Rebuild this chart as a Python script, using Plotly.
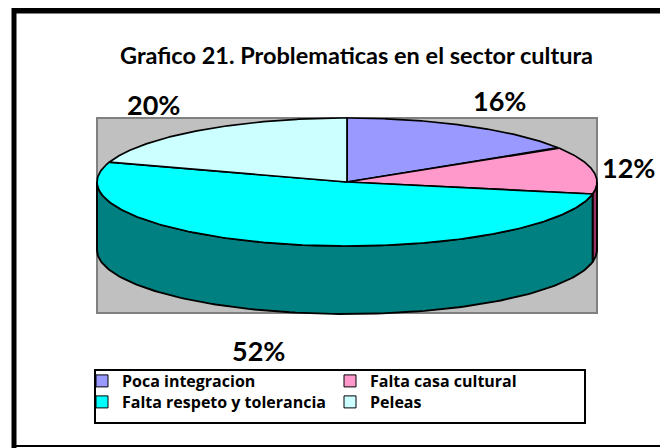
import numpy as np
import plotly.graph_objects as go

# ---- data ----
categories = ["Poca integracion", "Falta casa cultural", "Falta respeto y tolerancia", "Peleas"]
values = [16, 12, 52, 20]
top_colors = ["#9999FF", "#FF99CC", "#00FFFF", "#CCFFFF"]
side_colors = ["#4D4D80", "#993366", "#008080", "#668080"]
title_text = "Grafico 21. Problematicas en el sector cultura"
label_pos = [(499, 100), (628, 167), (258, 350), (153, 104)]  # label centres (page px)

# page is offset by the default 8px body margin -> draw in page pixel coordinates
OFF = 8
W, H = 668 - OFF, 448 - OFF
cx, cy, rx, ry, depth = 347, 182, 250, 64, 68
FONT = "Lato"
LFONT = "Open Sans"

total = float(sum(values))
bounds = np.concatenate([[0], np.cumsum(values)]) / total * 360.0


def rim(t, dy=0.0):
    r = np.radians(t)
    return cx + rx * np.sin(r), cy - ry * np.cos(r) + dy


def px(xp):
    return (xp - OFF) / W


def py(yp):
    return 1 - (yp - OFF) / H


fig = go.Figure()

# side walls (front half of the pie: 90..270 degrees)
for i in range(len(values)):
    a, b = max(bounds[i], 90), min(bounds[i + 1], 270)
    if b <= a:
        continue
    t = np.linspace(a, b, 120)
    x1, y1 = rim(t)
    x2, y2 = rim(t[::-1], depth)
    fig.add_trace(go.Scatter(
        x=np.concatenate([x1, x2, x1[:1]]), y=np.concatenate([y1, y2, y1[:1]]),
        mode="lines", fill="toself", fillcolor=side_colors[i],
        line=dict(color="black", width=1.9), showlegend=False, hoverinfo="skip"))

# top slices + legend entries
legend_ids = ["legend", "legend3", "legend2", "legend4"]
for i, (cat, v) in enumerate(zip(categories, values)):
    t = np.linspace(bounds[i], bounds[i + 1], 200)
    x, y = rim(t)
    fig.add_trace(go.Scatter(
        x=np.concatenate([[cx], x, [cx]]), y=np.concatenate([[cy], y, [cy]]),
        mode="lines", fill="toself", fillcolor=top_colors[i],
        line=dict(color="black", width=1.7), showlegend=False, name=cat,
        hovertemplate=f"{cat}: {v}%<extra></extra>"))
    fig.add_trace(go.Bar(x=[None], y=[None], name=f"<b>{cat}</b>",
                         marker=dict(color=top_colors[i], line=dict(color="black", width=1)),
                         legend=legend_ids[i]))

# percentage labels
for v, (lx, ly) in zip(values, label_pos):
    fig.add_annotation(x=lx, y=ly, xref="x", yref="y", text=f"<b>{v}%</b>",
                       showarrow=False, font=dict(family=FONT, size=27, color="black"))

shapes = [
    dict(type="rect", xref="x", yref="y", x0=97, x1=597, y0=118, y1=313,
         fillcolor="#C0C0C0", line=dict(color="#808080", width=2), layer="below"),
    dict(type="rect", xref="x", yref="y", x0=95, x1=585, y0=370, y1=423,
         fillcolor="white", line=dict(color="black", width=2), layer="below"),
    dict(type="line", xref="x", yref="y", x0=14, x1=14, y0=8, y1=448,
         line=dict(color="black", width=5)),
    dict(type="line", xref="x", yref="y", x0=12, x1=668, y0=10.5, y1=10.5,
         line=dict(color="black", width=6)),
    dict(type="line", xref="x", yref="y", x0=12, x1=668, y0=446, y1=446,
         line=dict(color="black", width=2)),
]

leg_common = dict(xanchor="left", yanchor="middle", bgcolor="rgba(0,0,0,0)",
                  font=dict(family=LFONT, size=16, color="black"),
                  itemwidth=30, tracegroupgap=0)
col_x = [82, 330]
row_y = [381, 402]

fig.update_layout(
    width=W, height=H, margin=dict(l=0, r=0, t=0, b=0), autosize=False,
    paper_bgcolor="white", plot_bgcolor="white",
    xaxis=dict(range=[OFF, OFF + W], visible=False, fixedrange=True),
    yaxis=dict(range=[OFF + H, OFF], visible=False, fixedrange=True),
    shapes=shapes,
    annotations=list(fig.layout.annotations) + [
        dict(x=356, y=55, xref="x", yref="y", text=f"<b>{title_text}</b>", showarrow=False,
             font=dict(family=FONT, size=23.5, color="black"))],
    legend=dict(x=px(col_x[0]), y=py(row_y[0]), **leg_common),
    legend2=dict(x=px(col_x[0]), y=py(row_y[1]), **leg_common),
    legend3=dict(x=px(col_x[1]), y=py(row_y[0]), **leg_common),
    legend4=dict(x=px(col_x[1]), y=py(row_y[1]), **leg_common),
    barmode="overlay",
)

fig.write_html("out.html")
